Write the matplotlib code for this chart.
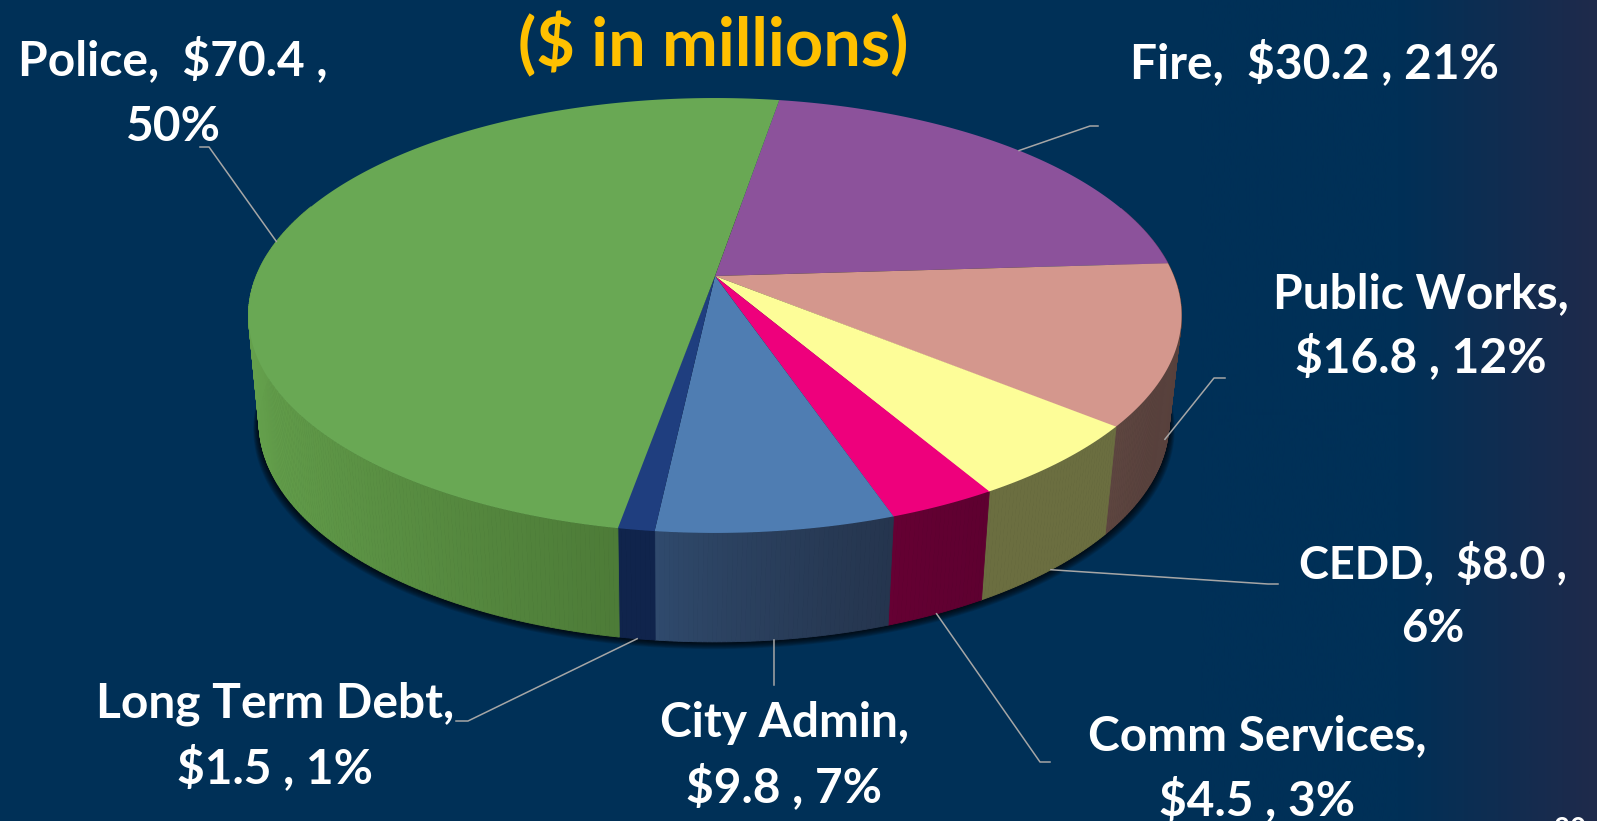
import matplotlib
matplotlib.use('Agg')
import matplotlib.pyplot as plt
from matplotlib.colors import LinearSegmentedColormap, to_rgb
import numpy as np

# clockwise from the Police/Fire boundary
categories = ['Fire', 'Public Works', 'CEDD', 'Comm Services', 'City Admin', 'Long Term Debt', 'Police']
values = [30.2, 16.8, 8.0, 4.5, 9.8, 1.5, 70.4]
labels = ['Fire,  $30.2 , 21%', 'Public Works,\n$16.8 , 12%', 'CEDD,  $8.0 ,\n6%',
          'Comm Services,\n$4.5 , 3%', 'City Admin,\n$9.8 , 7%', 'Long Term Debt,\n$1.5 , 1%',
          'Police,  $70.4 ,\n50%']
top_colors = ['#8C529B', '#D4978D', '#FDFD98', '#EE007C', '#4F7DB2', '#1F3E7F', '#69A854']
wall_left = ['#5E3A68', '#5E4640', '#6B6E40', '#660033', '#304B6E', '#10244C', '#64A04C']
wall_right = ['#5E3A68', '#57403C', '#6B6E40', '#5E0030', '#25354E', '#10244C', '#467031']

title = '($ in millions)'
page_number = '20'
FONT = 'Lato'
START = 9.5      # where the first slice starts, degrees clockwise from the back
K = 0.1816       # perspective of the pie


def top_edge(phi):
    phi = np.radians(phi)
    d = 1 + K * np.cos(phi)
    return 715 + 458.8 * np.sin(phi) / d, 276 - 210.3 * np.cos(phi) / d


def bottom_edge(phi):
    phi = np.radians(phi)
    d = 1 + K * np.cos(phi)
    return 714 + 447.4 * np.sin(phi) / d, 382 - 212.7 * np.cos(phi) / d


fig = plt.figure(figsize=(15.97, 8.21), dpi=100)
ax = fig.add_axes([0, 0, 1, 1])

# background, navy going darker at the right edge
bg = LinearSegmentedColormap.from_list('bg', ['#003057', '#003057', '#1F2A4B'])
ax.imshow(np.linspace(0, 1, 400)[None, :], extent=(1200, 1597, 821, 0), cmap=bg,
          aspect='auto', zorder=0, vmin=0.0, vmax=1.0)
ax.fill_between([0, 1200], 0, 821, color='#003057', zorder=0)
ax.set_xlim(0, 1597)
ax.set_ylim(821, 0)
ax.axis('off')

angles = START + np.cumsum([0] + values) / np.sum(values) * 360

# soft shadow under the pie
ring = np.linspace(0, 360, 361)
bx, by = bottom_edge(ring)
for grow in range(9, 0, -1):
    ax.fill(714 + (bx - 714) * (1 + grow * 0.0014), by + grow * 0.8, color='black',
            alpha=0.12, lw=0, zorder=1)

# walls drawn as thin strips so they can shade from left to right
for i in range(len(values)):
    steps = np.arange(angles[i], angles[i + 1] + 0.5, 0.5)
    c0, c1 = np.array(to_rgb(wall_left[i])), np.array(to_rgb(wall_right[i]))
    tx, _ = top_edge(steps)
    lo, hi = tx.min(), tx.max()
    for a, b in zip(steps[:-1], steps[1:]):
        if np.cos(np.radians(a)) > 0.35:
            continue
        xa, ya = top_edge(a)
        xb, yb = top_edge(b)
        xc, yc = bottom_edge(b)
        xd, yd = bottom_edge(a)
        t = ((xa + xb) / 2 - lo) / max(hi - lo, 1)
        col = c0 + (c1 - c0) * t ** 0.75
        ax.fill([xa, xb, xc, xd], [ya, yb, yc, yd], color=col, lw=0.6, zorder=2)

# top face
for i in range(len(values)):
    steps = np.arange(angles[i], angles[i + 1] + 0.25, 0.25)
    x, y = top_edge(steps)
    ax.fill(np.r_[715, x], np.r_[276, y], color=top_colors[i], lw=0, zorder=3)

# leader lines, starting from the middle of each slice
mid = (angles[:-1] + angles[1:]) / 2
leaders = {
    'Fire': ((1090, 126), (1098, 126)),
    'Public Works': ((1214, 378), (1225, 378)),
    'CEDD': ((1268, 584), (1278, 584)),
    'Comm Services': ((1040, 762), (1050, 762)),
    'City Admin': ((774, 685), (774, 685)),
    'Long Term Debt': ((468, 721), (456, 721)),
    'Police': ((209, 147), (200, 147)),
}
for i, name in enumerate(categories):
    sx, sy = top_edge(mid[i]) if name in ('Fire', 'Police') else bottom_edge(mid[i])
    elbow, end = leaders[name]
    if name == 'Public Works':
        sy -= 12
    ax.plot([sx, elbow[0], end[0]], [sy, elbow[1], end[1]], color='#A6A6A6', lw=1.1, zorder=4)

# labels, one text per line: centre x and the baseline of each line
label_pos = {
    'Fire': (1315, [78]), 'Public Works': (1421, [308, 372]), 'CEDD': (1433, [578, 642]),
    'Comm Services': (1257, [750, 815]), 'City Admin': (784, [737, 802]),
    'Long Term Debt': (275, [718, 783]), 'Police': (173, [75, 141]),
}
for i, name in enumerate(categories):
    cx, baselines = label_pos[name]
    size = 32.5 if name == 'CEDD' else 34.5
    for line, base in zip(labels[i].split('\n'), baselines):
        ax.text(cx, base, line, color='white', fontsize=size, family=FONT, weight='bold',
                ha='center', va='baseline', zorder=5)

ax.text(713, 45, title, color='#FFC000', fontsize=48, family=FONT, weight='bold',
        ha='center', va='center', zorder=5)
ax.text(1570, 817, page_number, color='white', fontsize=20, family=FONT, weight='bold',
        ha='center', va='top', zorder=5, clip_on=True)

fig.savefig('out.png', dpi=100)
